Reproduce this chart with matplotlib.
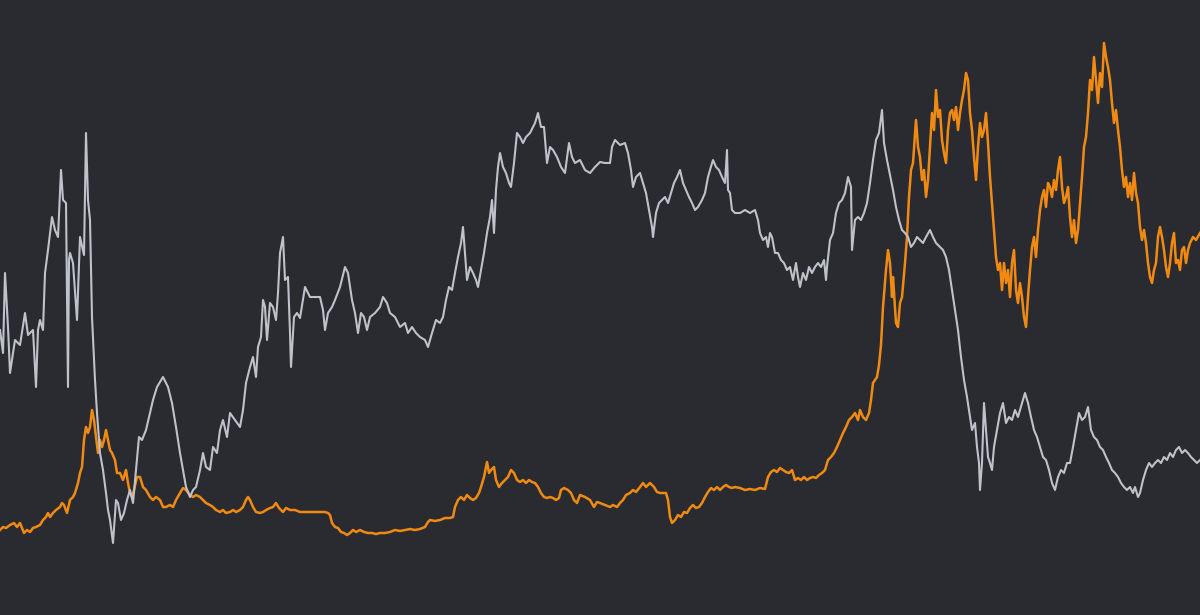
import matplotlib
matplotlib.use("Agg")
import matplotlib.pyplot as plt

# readings (x = time step, y = screen level, top = 0)
gray_x = [0, 3, 5, 8, 10, 15, 20, 25, 28, 33, 36, 38, 40, 43, 45, 48, 52, 55, 58, 61, 63, 66, 68, 69, 70, 73, 77, 80, 84, 86, 88, 90, 92, 95, 97,
          100, 103, 106, 108, 110, 113, 116, 118, 121, 124, 127, 130, 133, 136, 139, 142, 146, 150, 153, 157, 163, 168, 172, 176, 180, 183, 186, 190, 193, 196,
          200, 203, 206, 210, 213, 217, 220, 223, 227, 230, 235, 240, 243, 246, 250, 253, 256, 258, 261, 263, 265, 267, 270, 273, 276, 278, 280, 283, 285, 288, 290, 291, 294, 297,
          300, 305, 310, 315, 320, 323, 325, 328, 332, 335, 340, 345, 348, 352, 355, 358, 361, 364, 367, 370, 375, 380, 383, 387, 390, 395,
          400, 405, 408, 412, 416, 420, 425, 428, 432, 436, 440, 443, 446, 449, 452, 455, 458, 461, 463, 465, 467, 470, 473, 476, 478, 481, 484, 487, 490, 492, 494, 496, 498,
          500, 503, 506, 509, 511, 514, 517, 520, 523, 526, 530, 535, 538, 541, 544, 547, 550, 553, 557, 561, 565, 569, 572, 575, 580, 585, 590, 595,
          600, 605, 610, 612, 615, 620, 625, 628, 631, 633, 636, 640, 643, 646, 649, 652, 653, 656, 659, 662, 665, 668, 671, 674, 677, 680, 683, 686, 689, 692, 695, 698,
          702, 705, 708, 710, 713, 716, 719, 722, 725, 727, 728, 730, 732, 735, 740, 745, 750, 755, 758, 760, 763, 766, 768, 770, 772, 775, 778, 781, 784, 787, 790, 793, 796, 798,
          800, 803, 806, 809, 812, 815, 818, 821, 824, 826, 827, 830, 833, 836, 839, 842, 845, 848, 851, 852, 855, 858, 861, 864, 867, 870, 873, 876, 879, 882, 884, 887, 890, 893, 896, 899,
          902, 905, 908, 911, 914, 917, 920, 923, 926, 930, 933, 936, 940, 943, 946, 949, 952, 955, 958, 961, 964, 967, 970, 972, 975, 977, 979, 980, 982, 984, 986, 988, 990, 992, 994, 997,
          1000, 1003, 1006, 1009, 1012, 1015, 1018, 1020, 1023, 1025, 1028, 1031, 1034, 1037, 1040, 1043, 1046, 1049, 1052, 1055, 1058, 1061, 1064, 1067, 1070, 1073, 1076, 1079, 1082, 1085, 1088, 1091, 1094, 1097,
          1100, 1103, 1106, 1109, 1112, 1115, 1118, 1121, 1124, 1127, 1130, 1133, 1135, 1138, 1140, 1143, 1146, 1149, 1152, 1155, 1158, 1161, 1164, 1167, 1170, 1173, 1176, 1179, 1182, 1185, 1188, 1191, 1194, 1197, 1200]
gray_y = [330, 353, 273, 327, 373, 340, 345, 313, 335, 330, 387, 330, 320, 330, 273, 250, 217, 230, 237, 170, 200, 203, 387, 260, 253, 263, 320, 237, 255, 133, 200, 220, 317, 380, 413,
          453, 470, 493, 510, 520, 543, 500, 503, 520, 513, 500, 490, 503, 470, 437, 440, 430, 413, 400, 387, 377, 387, 403, 427, 453, 470, 487, 497, 490, 487,
          470, 453, 467, 470, 447, 453, 430, 420, 437, 413, 420, 427, 410, 383, 367, 357, 377, 347, 337, 300, 307, 340, 303, 307, 320, 293, 253, 237, 280, 277, 333, 367, 317, 313,
          318, 287, 297, 297, 297, 310, 330, 313, 307, 300, 287, 267, 273, 300, 313, 333, 313, 317, 330, 317, 313, 307, 297, 303, 313, 317,
          327, 323, 333, 327, 333, 337, 340, 347, 333, 320, 323, 317, 300, 287, 290, 273, 257, 243, 227, 253, 280, 267, 273, 280, 287, 270, 253, 233, 217, 200, 233, 190, 167,
          153, 167, 173, 183, 187, 163, 133, 137, 143, 137, 133, 123, 113, 127, 127, 163, 147, 150, 157, 167, 173, 143, 157, 163, 160, 170, 173, 167,
          162, 163, 163, 147, 140, 145, 143, 153, 170, 187, 177, 173, 183, 193, 210, 227, 237, 213, 203, 200, 197, 203, 193, 183, 177, 170, 183, 190, 197, 203, 210, 207,
          200, 193, 177, 170, 160, 167, 170, 177, 183, 150, 190, 193, 210, 213, 213, 210, 213, 210, 220, 233, 240, 237, 247, 233, 237, 253, 253, 260, 263, 270, 267, 280, 263, 277,
          287, 273, 280, 267, 273, 267, 263, 267, 260, 280, 267, 240, 233, 213, 203, 200, 193, 177, 187, 250, 220, 217, 220, 213, 203, 183, 160, 140, 133, 110, 143, 160, 175, 190, 207, 220,
          230, 233, 237, 247, 243, 237, 240, 243, 237, 230, 237, 243, 247, 250, 257, 270, 290, 310, 330, 357, 380, 397, 417, 430, 423, 447, 463, 490, 463, 403, 430, 457, 463, 470, 447, 430,
          413, 403, 423, 417, 420, 410, 417, 410, 400, 393, 403, 417, 430, 437, 447, 457, 460, 470, 483, 490, 477, 470, 473, 463, 463, 447, 430, 413, 420, 417, 407, 430, 437, 440,
          447, 450, 457, 463, 470, 473, 477, 483, 487, 490, 487, 493, 487, 497, 493, 480, 470, 463, 467, 463, 460, 463, 457, 460, 453, 457, 450, 447, 453, 450, 453, 457, 460, 463, 460]

orange_x = [0, 3, 6, 10, 14, 17, 20, 24, 27, 30, 33, 36, 40, 43, 46, 48, 50, 53, 56, 60, 62, 64, 67, 70, 73, 75, 78, 80, 82, 84, 86, 88, 90, 92, 94, 96, 98,
            100, 102, 104, 106, 108, 110, 112, 115, 117, 120, 123, 126, 128, 130, 132, 134, 137, 140, 143, 146, 150, 153, 156, 160, 163, 166, 170, 173, 176, 180, 183, 186, 190, 193, 196,
            200, 203, 206, 210, 213, 216, 220, 223, 226, 230, 233, 236, 240, 243, 246, 248, 250, 253, 256, 260, 263, 266, 270, 273, 276, 279, 283, 286, 290, 295,
            300, 305, 310, 315, 320, 325, 328, 330, 332, 335, 338, 341, 344, 347, 350, 353, 356, 360, 364, 368, 372, 376, 380, 385, 390, 395,
            400, 405, 410, 415, 420, 425, 428, 430, 435, 440, 445, 450, 453, 455, 458, 461, 464, 467, 470, 473, 476, 479, 481, 484, 487, 489, 491, 494, 496, 499,
            502, 505, 508, 511, 514, 517, 520, 523, 526, 529, 532, 535, 538, 541, 544, 547, 550, 553, 556, 559, 561, 564, 568, 571, 574, 577, 580, 585, 590, 594, 597,
            600, 605, 610, 613, 617, 620, 623, 626, 630, 633, 636, 640, 643, 646, 650, 654, 657, 660, 666, 668, 670, 672, 675, 678, 681, 684, 687, 690, 693, 696, 699,
            702, 705, 708, 711, 714, 717, 720, 723, 726, 729, 732, 735, 740, 745, 750, 755, 760, 765, 768, 771, 774, 777, 780, 783, 786, 789, 792, 795, 798,
            801, 804, 807, 810, 813, 816, 819, 822, 825, 828, 831, 834, 837, 840, 843, 846, 849, 852, 855, 858, 860, 863, 866, 869, 871, 873, 875, 877, 879, 881, 883, 886, 888, 890, 892, 893, 896, 898,
            900, 902, 905, 907, 909, 911, 913, 916, 918, 920, 922, 924, 926, 928, 930, 932, 934, 936, 938, 940, 942, 944, 946, 948, 950, 952, 954, 956, 958, 960, 962, 964, 966, 968, 970, 972, 974, 976, 978, 980,
            982, 984, 986, 988, 990, 992, 994, 996, 998, 1000, 1002, 1004, 1006, 1008, 1010, 1012, 1014, 1016, 1018, 1020, 1022, 1024, 1026, 1028, 1030, 1032, 1034, 1036, 1038, 1040,
            1042, 1044, 1046, 1048, 1050, 1052, 1054, 1056, 1058, 1060, 1062, 1064, 1066, 1068, 1070, 1072, 1074, 1076, 1078, 1080, 1082, 1084, 1086, 1088, 1090, 1092, 1094, 1096, 1098, 1100,
            1102, 1104, 1106, 1108, 1110, 1112, 1114, 1116, 1118, 1120, 1122, 1124, 1126, 1128, 1130, 1132, 1134, 1136, 1138, 1140, 1142, 1144, 1146, 1148, 1150,
            1152, 1154, 1156, 1158, 1160, 1162, 1164, 1166, 1168, 1170, 1172, 1174, 1176, 1178, 1180, 1182, 1184, 1186, 1188, 1190, 1193, 1196, 1200]
orange_y = [530, 527, 528, 525, 523, 527, 523, 533, 530, 532, 528, 527, 525, 520, 517, 513, 517, 513, 510, 507, 503, 505, 513, 500, 497, 493, 483, 473, 467, 440, 427, 433, 427, 410, 420, 437, 453,
            440, 447, 440, 430, 440, 450, 453, 460, 473, 473, 480, 470, 483, 493, 497, 490, 477, 477, 487, 490, 497, 500, 497, 500, 507, 507, 505, 507, 500, 493, 488, 490, 495, 497, 495,
            497, 500, 503, 505, 507, 510, 512, 510, 513, 512, 510, 512, 510, 507, 500, 497, 500, 507, 512, 513, 512, 510, 508, 507, 503, 508, 512, 508, 510, 510,
            512, 512, 512, 512, 512, 512, 513, 515, 523, 527, 528, 532, 533, 535, 533, 530, 532, 530, 532, 533, 533, 534, 533, 533, 532, 530,
            531, 530, 529, 530, 529, 527, 522, 520, 521, 520, 518, 518, 517, 507, 500, 497, 500, 495, 498, 500, 498, 493, 487, 477, 462, 473, 470, 467, 480, 487,
            483, 480, 477, 470, 473, 480, 482, 480, 483, 480, 482, 483, 487, 493, 497, 498, 497, 498, 500, 498, 490, 488, 490, 493, 500, 503, 495, 497, 500, 507, 502,
            503, 505, 507, 505, 507, 503, 500, 495, 493, 490, 492, 487, 483, 487, 483, 487, 492, 493, 493, 500, 517, 523, 520, 515, 517, 512, 513, 508, 505, 508, 507,
            503, 497, 492, 488, 490, 487, 490, 487, 485, 487, 488, 487, 488, 490, 489, 490, 488, 489, 477, 472, 470, 472, 468, 470, 472, 473, 470, 480, 478,
            480, 477, 480, 478, 477, 478, 475, 473, 470, 460, 457, 453, 447, 440, 433, 427, 420, 417, 413, 420, 410, 417, 420, 413, 400, 383, 380, 377, 365, 345, 307, 270, 250, 263, 297, 277, 323, 327,
            303, 297, 263, 237, 197, 170, 163, 120, 147, 157, 180, 170, 197, 180, 147, 113, 130, 90, 117, 110, 140, 153, 163, 130, 113, 110, 120, 107, 130, 113, 100, 90, 73, 80, 113, 130, 157, 180, 147, 123,
            137, 130, 113, 143, 177, 203, 230, 257, 270, 263, 290, 263, 283, 270, 297, 263, 250, 290, 303, 283, 297, 317, 327, 297, 270, 247, 237, 257, 230, 210,
            197, 190, 207, 183, 187, 197, 180, 190, 170, 157, 187, 203, 197, 187, 217, 237, 220, 243, 230, 203, 177, 147, 137, 113, 80, 90, 57, 80, 103, 73,
            87, 43, 57, 67, 80, 103, 123, 110, 130, 147, 170, 187, 177, 197, 183, 200, 173, 193, 203, 227, 240, 230, 243, 263, 277,
            283, 270, 263, 237, 227, 237, 250, 267, 277, 263, 243, 233, 263, 260, 270, 250, 247, 263, 250, 243, 237, 240, 233]

bg = "#2a2b30"
fig = plt.figure(figsize=(12, 6.15), dpi=100, facecolor=bg)
ax = fig.add_axes([0, 0, 1, 1])
ax.set_facecolor(bg)

ax.plot(orange_x, orange_y, color="#f08a12", linewidth=1.8, solid_joinstyle="round")
ax.plot(gray_x, gray_y, color="#bfc1cb", linewidth=1.5, solid_joinstyle="round")

ax.set_xlim(0, 1200)
ax.set_ylim(615, 0)
ax.axis("off")

fig.savefig("out.png", dpi=100, facecolor=bg)
